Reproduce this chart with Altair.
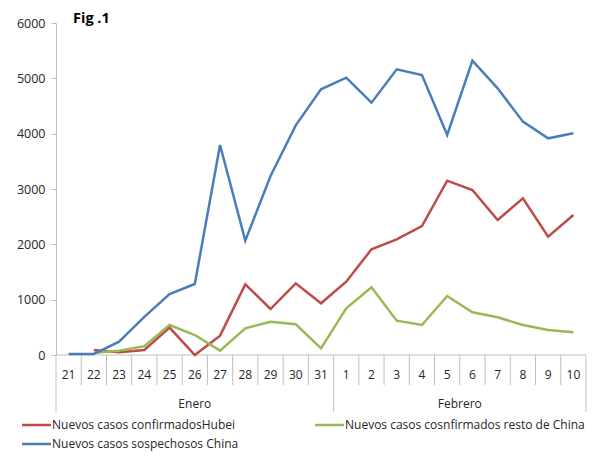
import altair as alt
import pandas as pd

days = ["21", "22", "23", "24", "25", "26", "27", "28", "29", "30", "31",
        "1", "2", "3", "4", "5", "6", "7", "8", "9", "10"]
months = ["Enero", "Febrero"]
month_lengths = [11, 10]

series_names = ["Nuevos casos confirmadosHubei",
                "Nuevos casos cosnfirmados resto de China",
                "Nuevos casos sospechosos China"]
hubei = [None, 90, 50, 90, 495, 0, 350, 1277, 831, 1295, 934,
         1325, 1910, 2091, 2331, 3150, 2982, 2440, 2832, 2138, 2530]
resto = [None, 40, 78, 160, 542, 361, 78, 482, 602, 555, 121,
         844, 1223, 620, 542, 1066, 772, 681, 542, 452, 410]
sospechosos = [20, 20, 240, 690, 1100, 1283, 3795, 2066, 3235, 4150, 4802,
               5012, 4560, 5163, 5060, 3976, 5319, 4820, 4217, 3916, 4006]
colors = ["#BE4B48", "#98B954", "#4A7EBB"]
y_ticks = [0, 1000, 2000, 3000, 4000, 5000, 6000]

W, H = 530, 332
FONT = "Open Sans"
TXT = "#262626"
GRAY = "#BFBFBF"

rows = []
for k, (name, vals) in enumerate(zip(series_names, [hubei, resto, sospechosos])):
    for i, v in enumerate(vals):
        if v is not None:
            rows.append({"serie": name, "pos": i + 0.5, "valor": v})
df = pd.DataFrame(rows)

n = len(days)
xs = alt.Scale(domain=[0, n], nice=False, zero=False)
ys = alt.Scale(domain=[0, 6000], nice=False)
yaxis = alt.Axis(values=y_ticks, format="d", title=None, grid=False, tickSize=5,
                 tickColor=GRAY, domainColor=GRAY, labelColor=TXT, labelFont=FONT,
                 labelFontSize=12.5, labelPadding=6)

lines = alt.Chart(df).mark_line(strokeWidth=2.5).encode(
    x=alt.X("pos:Q", scale=xs, axis=None),
    y=alt.Y("valor:Q", scale=ys, axis=yaxis),
    color=alt.Color("serie:N", scale=alt.Scale(domain=series_names, range=colors),
                    legend=None),
)

# x axis baseline
base_df = pd.DataFrame({"a": [0], "b": [n], "v": [0]})
baseline = alt.Chart(base_df).mark_rule(color=GRAY, strokeWidth=1).encode(
    x=alt.X("a:Q", scale=xs, axis=None), x2="b:Q",
    y=alt.Y("v:Q", scale=ys, axis=yaxis))

# category separators
month_bounds = [0]
for m in month_lengths:
    month_bounds.append(month_bounds[-1] + m)
short_df = pd.DataFrame({"b": [b for b in range(n + 1) if b not in month_bounds]})
long_df = pd.DataFrame({"b": month_bounds})
short_sep = alt.Chart(short_df).mark_rule(color=GRAY, strokeWidth=1).encode(
    x=alt.X("b:Q", scale=xs, axis=None), y=alt.value(H), y2=alt.value(H + 30))
long_sep = alt.Chart(long_df).mark_rule(color=GRAY, strokeWidth=1).encode(
    x=alt.X("b:Q", scale=xs, axis=None), y=alt.value(H), y2=alt.value(H + 57))

day_df = pd.DataFrame({"dia": days, "pos": [i + 0.5 for i in range(n)]})
day_text = alt.Chart(day_df).mark_text(font=FONT, fontSize=12, color=TXT,
                                        baseline="middle").encode(
    x=alt.X("pos:Q", scale=xs, axis=None), y=alt.value(H + 20), text="dia:N")

month_df = pd.DataFrame({"mes": months,
                         "pos": [(month_bounds[i] + month_bounds[i + 1]) / 2
                                 for i in range(len(months))]})
month_text = alt.Chart(month_df).mark_text(font=FONT, fontSize=12, color=TXT,
                                            baseline="middle").encode(
    x=alt.X("pos:Q", scale=xs, axis=None), y=alt.value(H + 49), text="mes:N")

title = alt.Chart(pd.DataFrame({"t": ["Fig .1"]})).mark_text(
    font=FONT, fontSize=14.5, fontWeight="bold", color="#000000", align="left",
    baseline="middle", x=17, y=-4).encode(text="t:N")

# custom legend (layout: two columns, row-major)
leg_x = [-34, 259, -34]
leg_y = [H + 70, H + 70, H + 89]
legend_layers = []
for name, col, lx, ly in zip(series_names, colors, leg_x, leg_y):
    ldf = pd.DataFrame({"serie": [name]})
    legend_layers.append(alt.Chart(ldf).mark_rule(color=col, strokeWidth=2.5).encode(
        x=alt.value(lx), x2=alt.value(lx + 29), y=alt.value(ly)))
    legend_layers.append(alt.Chart(ldf).mark_text(
        font=FONT, fontSize=12, color=TXT, align="left", baseline="middle").encode(
        x=alt.value(lx + 30), y=alt.value(ly), text="serie:N"))

chart = alt.layer(baseline, short_sep, long_sep, lines, day_text, month_text, title,
                  *legend_layers).properties(
    width=W, height=H,
    autosize=alt.AutoSizeParams(type="none"),
    padding={"left": 48, "top": 15, "right": 5, "bottom": 96},
).configure_view(stroke=None)

chart.save("out.html", embed_options={"renderer": "svg", "actions": False})
